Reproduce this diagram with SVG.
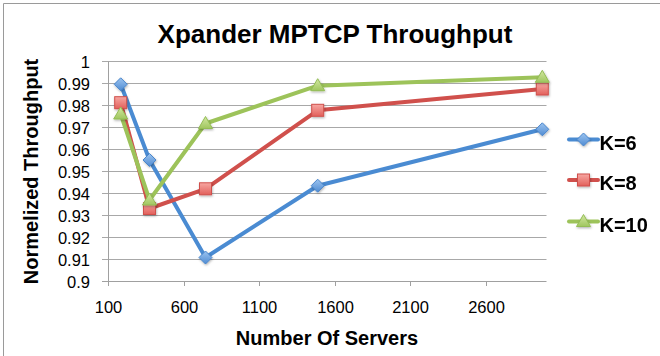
<svg xmlns="http://www.w3.org/2000/svg" width="660" height="356" viewBox="0 0 660 356">
  <defs>
    <linearGradient id="gBlue" x1="0" y1="0" x2="0" y2="1">
      <stop offset="0" stop-color="#9cc4f0"/>
      <stop offset="1" stop-color="#4f8bd2"/>
    </linearGradient>
    <linearGradient id="gRed" x1="0" y1="0" x2="0" y2="1">
      <stop offset="0" stop-color="#f7a7a2"/>
      <stop offset="1" stop-color="#e2605b"/>
    </linearGradient>
    <linearGradient id="gGreen" x1="0" y1="0" x2="0" y2="1">
      <stop offset="0" stop-color="#d3e8a2"/>
      <stop offset="1" stop-color="#a0c65f"/>
    </linearGradient>
    <filter id="shadow" x="-50%" y="-50%" width="200%" height="200%">
      <feDropShadow dx="0.6" dy="1.2" stdDeviation="0.9" flood-color="#000" flood-opacity="0.3"/>
    </filter>
    <!-- series markers, centred on the origin -->
    <path id="mDiamond" d="M0,-6.5 L6.5,0 L0,6.5 L-6.5,0 Z" fill="url(#gBlue)" stroke="#4a86cc" stroke-width="1"/>
    <rect id="mSquare" x="-6" y="-6" width="12" height="12" fill="url(#gRed)" stroke="#d0504c" stroke-width="1"/>
    <path id="mTri" d="M0,-7 L7,5 L-7,5 Z" fill="url(#gGreen)" stroke="#93bd55" stroke-width="1"/>
  </defs>
  <style>
    .frame { fill: none; stroke: #9a9a9a; stroke-width: 1; }
    .grid { fill: none; stroke: #a8a8a8; stroke-width: 1; }
    .axis { fill: none; stroke: #a0a0a0; stroke-width: 1; }
    .tick { font-family: "Liberation Sans", Arial, sans-serif; font-size: 16.5px; fill: #000; }
    .title { font-family: "Liberation Sans", Arial, sans-serif; font-weight: bold; font-size: 26px; fill: #000; }
    .label { font-family: "Liberation Sans", Arial, sans-serif; font-weight: bold; font-size: 20px; fill: #000; }
    .s6 { fill: none; stroke: #4a8bd2; stroke-width: 4; stroke-linejoin: round; stroke-linecap: round; }
    .s8 { fill: none; stroke: #d0504c; stroke-width: 4; stroke-linejoin: round; stroke-linecap: round; }
    .s10 { fill: none; stroke: #9dc35a; stroke-width: 4; stroke-linejoin: round; stroke-linecap: round; }
  </style>

  <rect width="660" height="356" fill="#ffffff"/>
  <!-- chart frame (top and left edges) -->
  <path class="frame" d="M3.5,356 L3.5,3.5 L660,3.5"/>

  <text class="title" x="335" y="43" text-anchor="middle">Xpander MPTCP Throughput</text>

  <!-- plot area: gridlines and axes -->
  <g id="grid">
    <path class="grid" d="M102,61.5 H546.5 M102,83.5 H546.5 M102,105.5 H546.5 M102,127.5 H546.5 M102,149.5 H546.5 M102,171.5 H546.5 M102,193.5 H546.5 M102,215.5 H546.5 M102,237.5 H546.5 M102,259.5 H546.5"/>
  </g>
  <g id="axes">
    <path class="axis" d="M102,281.5 H546.5 M108.5,61.5 V286"/>
    <path class="axis" d="M184.5,281.5 V286 M259.5,281.5 V286 M335.5,281.5 V286 M410.5,281.5 V286 M486.5,281.5 V286"/>
  </g>

  <g id="y-ticks" class="tick" text-anchor="end">
    <text x="90" y="67.5">1</text>
    <text x="90" y="89.5">0.99</text>
    <text x="90" y="111.5">0.98</text>
    <text x="90" y="133.5">0.97</text>
    <text x="90" y="155.5">0.96</text>
    <text x="90" y="177.5">0.95</text>
    <text x="90" y="199.5">0.94</text>
    <text x="90" y="221.5">0.93</text>
    <text x="90" y="243.5">0.92</text>
    <text x="90" y="265.5">0.91</text>
    <text x="90" y="287.5">0.9</text>
  </g>
  <g id="x-ticks" class="tick" text-anchor="middle">
    <text x="108.5" y="313">100</text>
    <text x="184.5" y="313">600</text>
    <text x="259.5" y="313">1100</text>
    <text x="335.5" y="313">1600</text>
    <text x="410.5" y="313">2100</text>
    <text x="486.5" y="313">2600</text>
  </g>

  <text class="label" x="327" y="345" text-anchor="middle">Number Of Servers</text>
  <text class="label" transform="translate(38,171.5) rotate(-90)" text-anchor="middle">Normelized Throughput</text>

  <!-- data series -->
  <g id="connectors">
    <g id="series-k6">
      <polyline class="s6" points="120.7,84.3 149.5,160 205.5,257.5 317.7,185.7 542.3,129.3"/>
      <g filter="url(#shadow)">
        <use href="#mDiamond" x="120.7" y="84.3"/>
        <use href="#mDiamond" x="149.5" y="160"/>
        <use href="#mDiamond" x="205.5" y="257.5"/>
        <use href="#mDiamond" x="317.7" y="185.7"/>
        <use href="#mDiamond" x="542.3" y="129.3"/>
      </g>
    </g>
    <g id="series-k8">
      <polyline class="s8" points="120.7,102.7 149.5,208.5 205.5,188.8 317.7,110.3 542.3,89"/>
      <g filter="url(#shadow)">
        <use href="#mSquare" x="120.7" y="102.7"/>
        <use href="#mSquare" x="149.5" y="208.5"/>
        <use href="#mSquare" x="205.5" y="188.8"/>
        <use href="#mSquare" x="317.7" y="110.3"/>
        <use href="#mSquare" x="542.3" y="89"/>
      </g>
    </g>
    <g id="series-k10">
      <polyline class="s10" points="120.7,114 149.5,200 205.5,123.5 317.7,85.7 542.3,77.3"/>
      <g filter="url(#shadow)">
        <use href="#mTri" x="120.7" y="114"/>
        <use href="#mTri" x="149.5" y="200"/>
        <use href="#mTri" x="205.5" y="123.5"/>
        <use href="#mTri" x="317.7" y="85.7"/>
        <use href="#mTri" x="542.3" y="77.3"/>
      </g>
    </g>
  </g>

  <!-- legend -->
  <g id="legend-k6">
    <line class="s6" x1="569" y1="139.5" x2="598" y2="139.5"/>
    <use href="#mDiamond" x="583.5" y="139.5" filter="url(#shadow)"/>
    <text class="label" x="599.5" y="149.5">K=6</text>
  </g>
  <g id="legend-k8">
    <line class="s8" x1="569" y1="180" x2="598" y2="180"/>
    <use href="#mSquare" x="583.5" y="180" filter="url(#shadow)"/>
    <text class="label" x="599.5" y="190">K=8</text>
  </g>
  <g id="legend-k10">
    <line class="s10" x1="569" y1="221.5" x2="598" y2="221.5"/>
    <use href="#mTri" x="583.5" y="221.5" filter="url(#shadow)"/>
    <text class="label" x="599.5" y="231.5">K=10</text>
  </g>
</svg>
